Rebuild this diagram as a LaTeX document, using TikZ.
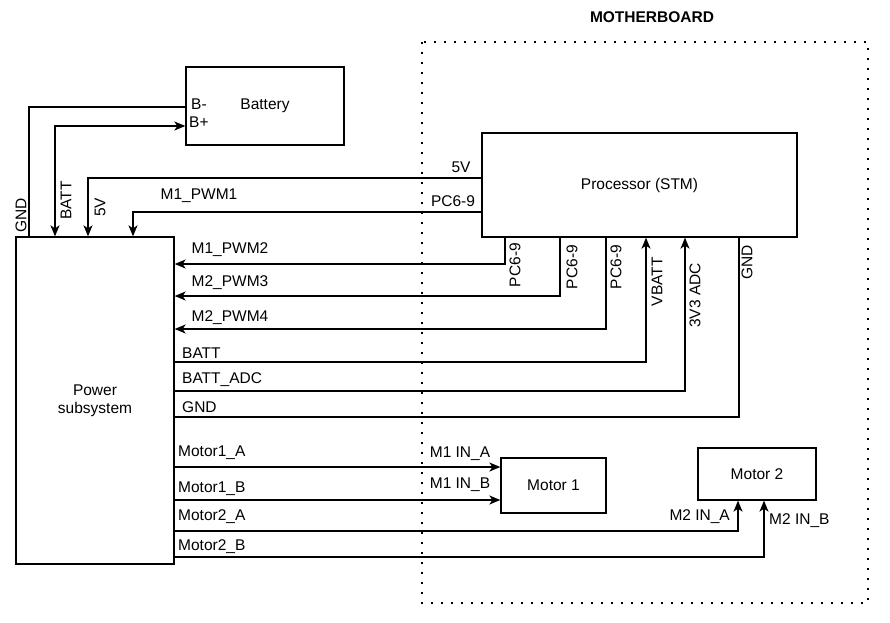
\documentclass[tikz,border=0pt]{standalone}
\usepackage{fontspec}
\setmainfont{Liberation Sans}
\usetikzlibrary{arrows.meta,positioning}

\begin{document}
\begin{tikzpicture}[
    x=1pt, y=-1pt,
    >={Stealth[length=11pt,width=9pt,inset=3pt]},
    every node/.style={font=\fontsize{15.5}{18}\selectfont},
    block/.style={draw, line width=1.3pt, align=center},
    wire/.style={line width=1.3pt},
    sig/.style={inner sep=0pt},
    vsig/.style={inner sep=0pt, rotate=90},
    board/.style={line width=2pt, dash pattern=on 2pt off 8pt},
  ]
    \useasboundingbox (0,0) rectangle (890,622);

    % motherboard frame
    \draw[board] (422,42) rectangle (868,603);
    \node[font=\fontsize{15.5}{18}\selectfont\bfseries] (mbtitle) at (652,17) {MOTHERBOARD};

    \node[block, minimum width=158pt, minimum height=78pt] (batt) at (265,106) {Battery};
    \node[block, minimum width=315pt, minimum height=104pt] (proc) at (639.5,185) {Processor (STM)};
    \node[block, minimum width=158pt, minimum height=327pt] (pwr) at (95,400.5) {Power\\subsystem};
    \node[block, minimum width=105pt, minimum height=55pt] (m1) at (553.5,485.5) {Motor 1};
    \node[block, minimum width=118pt, minimum height=52pt] (m2) at (757,474) {Motor 2};

    \node[sig, anchor=west] (bminus) at (191,104) {B-};
    \node[sig, anchor=west] (bplus) at (189,122) {B+};

    % battery and supply
    \draw[wire] (batt.west |- 0,107) -| (pwr.north -| 29,0);
    \draw[wire, <->] (batt.west |- 0,126) -| (pwr.north -| 55,0);
    \draw[wire, ->] (proc.west |- 0,178) -| (pwr.north -| 88,0);
    \draw[wire, ->] (proc.west |- 0,212) -| (pwr.north -| 133,0);

    \node[vsig, anchor=west] (lgnd) at (21,233) {GND};
    \node[vsig, anchor=west] (lbatt) at (66,220) {BATT};
    \node[vsig, anchor=west] (l5v) at (100,217) {5V};
    \node (p5v) at (461,167) {5V};
    \node (ppc) at (453,201) {PC6-9};
    \node (lpwm1) at (199,196) {M1\_PWM1};

    % processor pins
    \draw[wire, ->] (proc.south -| 505,0) |- (pwr.east |- 0,264);
    \draw[wire, ->] (proc.south -| 560,0) |- (pwr.east |- 0,296);
    \draw[wire, ->] (proc.south -| 606,0) |- (pwr.east |- 0,329);
    \draw[wire, ->] (pwr.east |- 0,362) -| (proc.south -| 646,0);
    \draw[wire, ->] (pwr.east |- 0,391) -| (proc.south -| 685,0);
    \draw[wire] (pwr.east |- 0,417) -| (proc.south -| 739,0);

    \node (lpwm2) at (230,250) {M1\_PWM2};
    \node (lpwm3) at (230,283) {M2\_PWM3};
    \node (lpwm4) at (230,318) {M2\_PWM4};
    \node[sig, anchor=west] (lbatt2) at (182,353) {BATT};
    \node[sig, anchor=west] (ladc) at (182,380) {BATT\_ADC};
    \node[sig, anchor=west] (lgnd2) at (182,407) {GND};

    \node[vsig, anchor=east] (ppc1) at (515,243) {PC6-9};
    \node[vsig, anchor=east] (ppc2) at (572,245) {PC6-9};
    \node[vsig, anchor=east] (ppc3) at (616,245) {PC6-9};
    \node[vsig, anchor=east] (pvbatt) at (657,257) {VBATT};
    \node[vsig, anchor=east] (padc) at (695,263) {3V3 ADC};
    \node[vsig, anchor=east] (pgnd) at (747,245) {GND};

    % motors
    \draw[wire, ->] (pwr.east |- 0,467) -- (m1.west |- 0,467);
    \draw[wire, ->] (pwr.east |- 0,500) -- (m1.west |- 0,500);
    \draw[wire, ->] (pwr.east |- 0,531) -| (m2.south -| 738,0);
    \draw[wire, ->] (pwr.east |- 0,557) -| (m2.south -| 764,0);

    \node[sig, anchor=west] (lm1a) at (178,453) {Motor1\_A};
    \node[sig, anchor=west] (lm1b) at (178,489) {Motor1\_B};
    \node[sig, anchor=west] (lm2a) at (178,517) {Motor2\_A};
    \node[sig, anchor=west] (lm2b) at (178,547) {Motor2\_B};
    \node (m1ina) at (460,454) {M1 IN\_A};
    \node (m1inb) at (460,485) {M1 IN\_B};
    \node[sig, anchor=east] (m2ina) at (730,517) {M2 IN\_A};
    \node[sig, anchor=west] (m2inb) at (769,521) {M2 IN\_B};
  \end{tikzpicture}
\end{document}
